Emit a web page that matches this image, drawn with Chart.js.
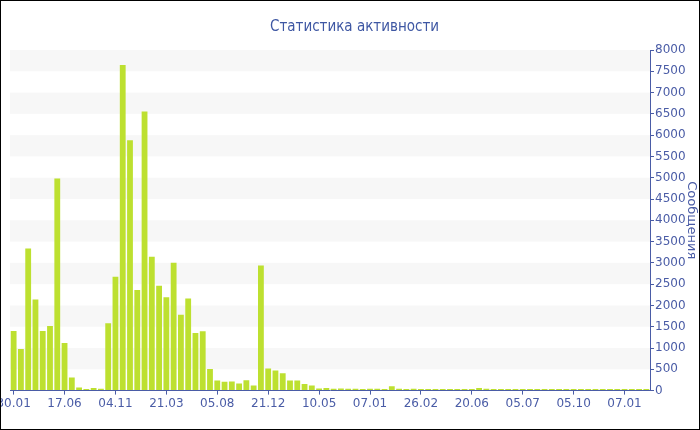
<!DOCTYPE html>
<html>
<head>
<meta charset="utf-8">
<script src="https://cdn.jsdelivr.net/npm/chart.js@4"></script>
<style>
    body { margin: 0; background: #fff; }
    #wrap { width: 700px; height: 430px; border: 1px solid #000; box-sizing: border-box; position: relative; }
</style>
</head>
<body>
<div id="wrap"><canvas id="activityChart"></canvas></div>
<script>
// подписи оси X (каждая 7-я категория)
const tickLabels = ['30.01', '17.06', '04.11', '21.03', '05.08', '21.12', '10.05',
                    '07.01', '26.02', '20.06', '05.07', '05.10', '07.01'];
const labelStep = 7;

// сообщений за период
const messages = [
    1400, 980, 3340, 2140, 1400, 1520, 4980, 1120, 305, 70,
    40, 60, 45, 1580, 2675, 7650, 5880, 2360, 6555, 3145,
    2465, 2190, 3005, 1780, 2165, 1355, 1395, 510, 235, 205,
    212, 165, 243, 118, 2940, 518, 470, 408, 235, 235,
    157, 118, 47, 63, 45, 50, 45, 45, 40, 45,
    45, 40, 105, 45, 40, 42, 40, 38, 38, 38,
    40, 38, 38, 40, 60, 42, 40, 38, 38, 38,
    36, 38, 36, 38, 36, 36, 38, 36, 36, 38,
    36, 36, 38, 36, 36, 38, 36, 36
];

const yMax = 8000;
const yStep = 250;

const blue = '#4a5ca6';
const font = 'DejaVu Sans';

// категории строятся из подписей тиков
const categories = messages.map((v, i) => i % labelStep == 0 ? tickLabels[i / labelStep] : '');

// полосы фона через 500
const bandsPlugin = {
    id: 'bands',
    beforeDatasetsDraw(chart) {
        const c = chart.ctx;
        const area = chart.chartArea;
        const y = chart.scales.y;
        c.save();
        c.fillStyle = '#f7f7f7';
        for (let v = 500; v < yMax; v += 1000) {
            const top = y.getPixelForValue(v + 500);
            const bottom = y.getPixelForValue(v);
            c.fillRect(area.left, top, area.right - area.left, bottom - top);
        }
        c.restore();
    }
};

new Chart(document.getElementById('activityChart'), {
    type: 'bar',
    data: {
        labels: categories,
        datasets: [{
            label: 'Сообщения',
            data: messages,
            backgroundColor: '#bde030',
            barPercentage: 0.8,
            categoryPercentage: 1.0
        }]
    },
    options: {
        responsive: true,
        maintainAspectRatio: false,
        animation: false,
        layout: {
            padding: { left: 9, right: 0, top: 0, bottom: 16 }
        },
        plugins: {
            legend: { display: false },
            tooltip: { enabled: false },
            title: {
                display: true,
                text: 'Статистика активности',
                color: '#3e57a3',
                font: { family: 'DejaVu Sans Condensed', size: 15, weight: 'normal' },
                padding: { top: 17, bottom: 14 }
            }
        },
        scales: {
            x: {
                afterFit: (scale) => { scale.paddingLeft = 0; scale.paddingRight = 0; },
                grid: {
                    display: true,
                    drawOnChartArea: false,
                    drawTicks: true,
                    tickLength: 4,
                    offset: false,
                    color: blue
                },
                border: { display: true, color: blue },
                ticks: {
                    autoSkip: false,
                    maxRotation: 0,
                    padding: 2,
                    color: blue,
                    font: { family: font, size: 12 },
                    callback: function(value, index) {
                        return index % labelStep == 0 ? categories[index] : null;
                    }
                }
            },
            y: {
                position: 'right',
                min: 0,
                max: yMax,
                afterFit: (scale) => { scale.width = 49; },
                grid: {
                    display: true,
                    drawOnChartArea: false,
                    drawTicks: true,
                    tickLength: 4,
                    color: blue
                },
                border: { display: true, color: blue },
                ticks: {
                    stepSize: yStep,
                    padding: 1,
                    color: blue,
                    font: { family: font, size: 12 },
                    callback: (v) => v % 500 == 0 ? v : ''
                },
                title: {
                    display: true,
                    text: 'Сообщения',
                    color: blue,
                    font: { family: font, size: 13 },
                    padding: { top: 0, bottom: 0 }
                }
            }
        }
    },
    plugins: [bandsPlugin]
});
</script>
</body>
</html>
